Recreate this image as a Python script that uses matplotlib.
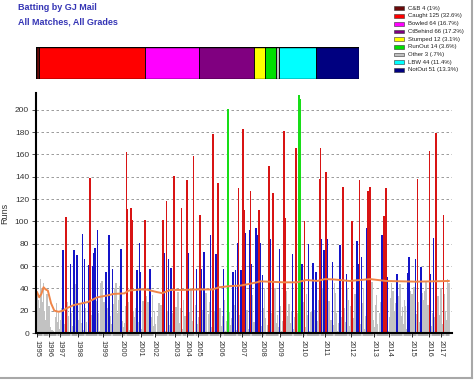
import matplotlib
matplotlib.use('Agg')
import matplotlib.pyplot as plt
from matplotlib.patches import Rectangle
from matplotlib.lines import Line2D
from matplotlib.ticker import FixedLocator
import numpy as np

plt.rcParams['font.family'] = ['Liberation Sans', 'DejaVu Sans']

# ---- data: runs per innings (chronological) ----
runs = [
    37, 30, 22, 48, 40, 28, 45, 20, 12, 35, 22, 24, 5, 0, 3, 2, 1, 14, 27, 10,
    18, 4, 12, 22, 74, 8, 2, 104, 28, 15, 0, 62, 18, 6, 74, 44, 30, 70, 12, 5,
    26, 9, 89, 3, 66, 22, 10, 1, 61, 139, 16, 4, 60, 72, 76, 29, 92, 18, 2, 45,
    47, 12, 28, 6, 55, 22, 0, 88, 15, 8, 57, 26, 40, 45, 18, 2, 30, 42, 75, 11,
    5, 9, 24, 162, 111, 28, 3, 112, 101, 20, 7, 14, 22, 56, 10, 81, 55, 4, 29, 12,
    101, 33, 18, 28, 0, 57, 14, 34, 6, 20, 8, 1, 15, 27, 3, 25, 11, 101, 72, 2,
    118, 20, 66, 7, 58, 18, 0, 141, 12, 23, 5, 37, 9, 22, 112, 4, 30, 15, 2, 137,
    72, 19, 6, 40, 11, 159, 0, 25, 57, 8, 14, 106, 57, 3, 21, 73, 10, 36, 1, 17,
    28, 88, 5, 178, 12, 20, 71, 3, 134, 9, 22, 6, 15, 57, 30, 2, 11, 201, 19, 4,
    7, 13, 55, 25, 56, 3, 81, 130, 16, 56, 0, 183, 110, 90, 8, 21, 4, 92, 127, 62,
    34, 10, 2, 94, 88, 15, 110, 81, 6, 52, 22, 40, 13, 1, 7, 150, 84, 18, 3, 125,
    32, 40, 9, 16, 5, 75, 24, 2, 11, 181, 103, 38, 15, 0, 26, 9, 20, 71, 4, 14,
    166, 7, 18, 213, 210, 12, 62, 28, 100, 5, 35, 16, 80, 2, 19, 8, 63, 21, 3, 55,
    11, 30, 138, 166, 84, 40, 74, 22, 144, 84, 15, 29, 3, 12, 64, 7, 45, 36, 18, 2,
    9, 79, 14, 5, 131, 22, 10, 53, 40, 30, 6, 24, 100, 13, 3, 35, 18, 82, 62, 137,
    8, 68, 27, 40, 4, 15, 94, 127, 30, 131, 22, 46, 12, 5, 25, 34, 8, 1, 18, 28,
    88, 6, 105, 40, 130, 50, 2, 14, 31, 45, 38, 9, 20, 27, 53, 3, 33, 44, 15, 23,
    8, 30, 24, 4, 54, 68, 38, 12, 35, 22, 41, 66, 17, 138, 28, 10, 59, 36, 5, 30,
    38, 46, 12, 25, 163, 53, 6, 18, 85, 14, 179, 27, 33, 3, 16, 40, 8, 106, 35, 20,
    12, 48, 45,
]

# career average line (innings index, average)
avg_idx = [0, 2, 4, 6, 8, 10, 13, 16, 20, 24, 27, 34, 47, 56, 65, 71, 81, 85, 96, 102,
           112, 116, 124, 136, 149, 163, 169, 179, 189, 204, 207, 229, 241, 250, 260,
           267, 275, 290, 309, 324, 352, 382]
avg_val = [36.5, 32, 35, 41, 39, 38, 26.5, 20, 19, 20, 22, 25, 27.7, 32, 33.6, 35, 35.5,
           38, 39, 38.8, 36.5, 35.7, 38.6, 38.6, 39, 39, 41, 42, 42.5, 45.4, 46.3, 45.4,
           45.4, 47.5, 46.6, 48.3, 48, 46.6, 48.3, 46.6, 46, 46.6]

years = ['1995', '1996', '1997', '1998', '1999', '2000', '2001', '2002', '2003', '2004',
         '2005', '2006', '2007', '2008', '2009', '2010', '2011', '2012', '2013', '2014',
         '2015', '2016', '2017']
year_idx = [0, 11, 21, 38, 61, 79, 96, 109, 128, 139, 149, 170, 190, 209, 225, 247, 267,
            291, 313, 327, 348, 364, 375]

# dismissal summary
dis_names = ['C&B', 'Caught', 'Bowled', 'CtBehind', 'Stumped', 'RunOut', 'Other', 'LBW', 'NotOut']
dis_counts = [4, 125, 64, 66, 12, 14, 3, 44, 51]
dis_pct = ['1%', '32.6%', '16.7%', '17.2%', '3.1%', '3.6%', '.7%', '11.4%', '13.3%']
dis_colors = ['#6a0a0a', '#ff0000', '#ff00ff', '#800080', '#ffff00', '#00e000', '#c0c0c0',
              '#00ffff', '#000080']

W, H = 474, 380
fig = plt.figure(figsize=(W / 100, H / 100), dpi=100)
fig.patch.set_facecolor('white')

def fx(px):
    return px / W

def fy(py):
    return 1 - py / H

# ---- main chart ----
ax = fig.add_axes([fx(36), fy(333), fx(452) - fx(36), fy(93) - fy(333)])
x = np.arange(len(runs))
r = np.array(runs)
bands = [
    (r < 50, '#c2c2c2', 2),
    ((r >= 50) & (r < 100), '#1414c8', 3),
    ((r >= 100) & (r < 200), '#d81414', 4),
    (r >= 200, '#18dd18', 5),
]
for mask, col, z in bands:
    ax.bar(x[mask], r[mask], width=1.5, color=col, linewidth=0, zorder=z)
ax.plot(avg_idx, avg_val, color='#f08548', lw=1.4, zorder=6)

ax.set_xlim(-1, 385)
ax.set_ylim(0, 215)
ax.set_yticks(range(0, 201, 20))
ax.yaxis.grid(True, linestyle=(0, (3, 3)), color='#8a8a8a', lw=0.6)
ax.set_axisbelow(True)
for s in ['top', 'right']:
    ax.spines[s].set_visible(False)
for s in ['left', 'bottom']:
    ax.spines[s].set_linewidth(1.5)
    ax.spines[s].set_color('black')
    ax.spines[s].set_zorder(7)
ax.tick_params(axis='y', labelsize=6, length=3, width=0.6, pad=2, colors='#333333')
ax.set_xticks(year_idx)
ax.set_xticklabels(years, rotation=270, fontsize=5.5, color='#333333')
ax.xaxis.set_minor_locator(FixedLocator(list(x)))
ax.tick_params(axis='x', which='major', length=3, width=0.6, pad=2)
ax.tick_params(axis='x', which='minor', length=2.5, width=0.35, color='#444444')
ax.set_ylabel('Runs', fontsize=6.5, labelpad=4, color='#333333')

# ---- stacked dismissal bar ----
bx = fig.add_axes([fx(36), fy(79), fx(359) - fx(36), fy(47) - fy(79)])
left = 0
for c, col in zip(dis_counts, dis_colors):
    bx.barh(0, c, left=left, height=1, color=col, edgecolor='black', linewidth=0.6)
    left += c
bx.set_xlim(0, sum(dis_counts))
bx.set_ylim(-0.5, 0.5)
bx.axis('off')
bx.add_patch(Rectangle((0, -0.5), sum(dis_counts), 1, fill=False, edgecolor='black', lw=1.0))

# ---- legend ----
for k, (n, c, p, col) in enumerate(zip(dis_names, dis_counts, dis_pct, dis_colors)):
    yc = 8.3 + k * 7.7
    fig.add_artist(Rectangle((fx(393.5), fy(yc + 1.8)), fx(403.5) - fx(393.5), fy(yc - 1.8) - fy(yc + 1.8),
                             facecolor=col, edgecolor='#333333', lw=0.4, transform=fig.transFigure))
    fig.text(fx(408.5), fy(yc), f'{n} {c} ({p})', fontsize=4.3, va='center', ha='left',
             color='#222222')

# ---- titles ----
fig.text(fx(18), fy(8), 'Batting by GJ Mail', fontsize=6.5, fontweight='bold', color='#3535b5',
         va='center', ha='left')
fig.text(fx(18), fy(22), 'All Matches, All Grades', fontsize=6.5, fontweight='bold', color='#3535b5',
         va='center', ha='left')

# ---- frame lines (right & bottom) ----
fig.add_artist(Line2D([fx(472), fx(472)], [fy(0), fy(378)], color='#a8a8a8', lw=1.5,
                      transform=fig.transFigure))
fig.add_artist(Line2D([fx(0), fx(472)], [fy(378), fy(378)], color='#a8a8a8', lw=1.5,
                      transform=fig.transFigure))

fig.savefig('out.png', dpi=100)
